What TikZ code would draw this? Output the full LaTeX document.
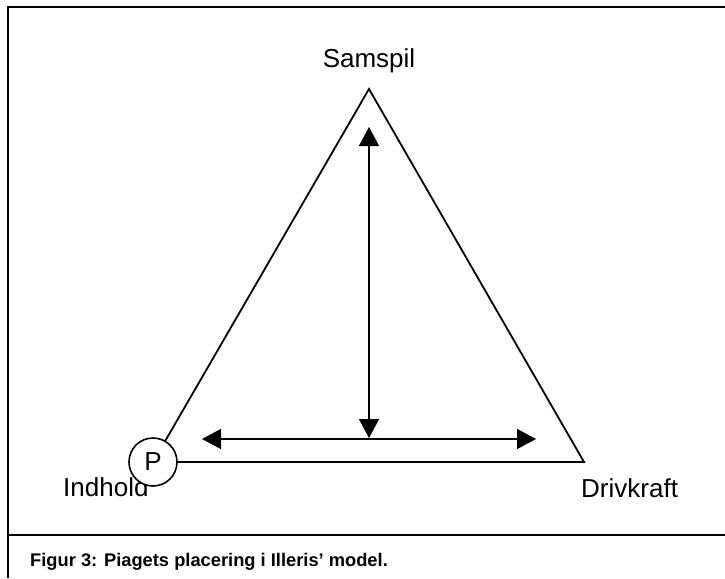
\documentclass[tikz,border=0pt]{standalone}
\usepackage{fontspec}
\setmainfont{Liberation Sans}
\usetikzlibrary{arrows.meta}
\begin{document}
\begin{tikzpicture}[x=1pt,y=-1pt,
  frameline/.style={line width=2.4pt,black},
  sideline/.style={line width=1.8pt,black},
  dblarrow/.style={line width=1.4pt,{Triangle[length=19pt,width=20pt]}-{Triangle[length=19pt,width=20pt]}},
  label/.style={font=\fontsize{26}{30}\selectfont,inner sep=0pt},
  pnode/.style={circle,draw,line width=1.6pt,fill=white,minimum size=48pt,inner sep=0pt,font=\fontsize{26}{30}\selectfont}]
\useasboundingbox (0,0) rectangle (725,578);
% frame and caption rule
\draw[frameline] (725,7) -- (8,7) -- (8,578);
\draw[frameline] (8,535) -- (725,535);
% triangle corners
\coordinate (top) at (369,89);
\coordinate (left) at (153,462);
\coordinate (right) at (584,462);
% corner labels
\node[label,anchor=base] (samspil) at (369,67) {Samspil};
\node[label,anchor=base west] (indhold) at (63,496) {Indhold};
\node[label,anchor=base west] (drivkraft) at (581,497) {Drivkraft};
% triangle
\draw[sideline,line join=miter] (left) -- (top) -- (right) -- cycle;
% Piaget marker
\node[pnode] (p) at (left) {P};
% double arrows
\coordinate (vt) at (369,127);
\coordinate (vb) at (369,438);
\coordinate (hl) at (202,439);
\coordinate (hr) at (536,439);
\draw[dblarrow] (vt) -- (vb);
\draw[dblarrow] (hl) -- (hr);
% caption
\node[anchor=base west,inner sep=0pt,font=\fontsize{18.3}{22}\selectfont\bfseries] (caption) at (30,566) {Figur 3: Piagets placering i Illeris’ model.};
\end{tikzpicture}
\end{document}
